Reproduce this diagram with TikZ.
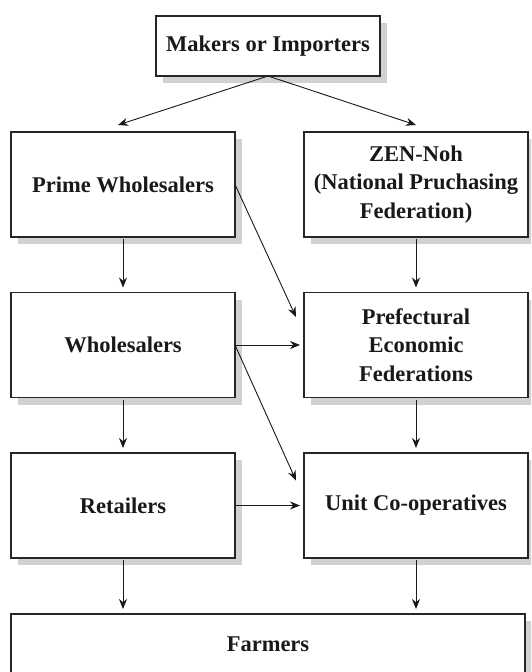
\documentclass[tikz,border=0pt]{standalone}
\usepackage{fontspec}
\setmainfont{Liberation Serif}
\usetikzlibrary{shadows,arrows.meta}
\definecolor{shadowgray}{rgb}{0.82, 0.82, 0.83}

\begin{document}
\begin{tikzpicture}[x=1pt,y=-1pt]
  \tikzset{BoxStyle/.style = {
    shape         = rectangle,
    draw          = black!85,
    fill          = white,
    line width    = 1.1pt,
    text          = black!90,
    font          = \fontsize{22.5}{28.5}\selectfont\bfseries,
    align         = center,
    inner sep     = 2pt,
    outer sep     = 0pt,
    minimum width = 224pt,
    minimum height= 105pt,
    drop shadow   = {shadow xshift=7pt, shadow yshift=-7pt,
                     fill=shadowgray, opacity=1}
    }
  }
  \tikzset{ArrowStyle/.style = {
    draw          = black!90,
    line width    = 0.9pt,
    -{Stealth[length=10pt,width=8pt]}
    }
  }
  \clip (0,0) rectangle (531,672);

	\node[BoxStyle,minimum height=60pt](Makers) at (268, 46) {Makers or Importers};
	\node[BoxStyle](Prime) at (123, 184.5) {Prime Wholesalers};
	\node[BoxStyle](ZenNoh) at (416, 184.5) {ZEN-Noh\\(National Pruchasing\\Federation)};
	\node[BoxStyle](Whole) at (123, 345) {Wholesalers};
	\node[BoxStyle](Pref) at (416, 345) {Prefectural\\Economic\\Federations};
	\node[BoxStyle](Retail) at (123, 505.5) {Retailers};
	\node[BoxStyle](Unit) at (416, 505.5) {Unit Co-operatives};
	\node[BoxStyle,minimum width=514pt,minimum height=60pt](Farmers) at (268, 644) {Farmers};

	\draw[ArrowStyle](Makers.south) to ([xshift=-5pt,yshift=7pt]Prime.north);
	\draw[ArrowStyle](Makers.south) to ([yshift=7pt]ZenNoh.north);

	\draw[ArrowStyle,shorten <=2pt,shorten >=5pt](Prime.south) to (Whole.north);
	\draw[ArrowStyle,shorten <=2pt,shorten >=5pt](ZenNoh.south) to (Pref.north);
	\draw[ArrowStyle](Prime.east) to ([xshift=-8pt,yshift=28pt]Pref.west);
	\draw[ArrowStyle,shorten >=4pt](Whole.east) to (Pref.west);
	\draw[ArrowStyle](Whole.east) to ([xshift=-8pt,yshift=25pt]Unit.west);
	\draw[ArrowStyle,shorten <=2pt,shorten >=5pt](Whole.south) to (Retail.north);
	\draw[ArrowStyle,shorten <=2pt,shorten >=5pt](Pref.south) to (Unit.north);
	\draw[ArrowStyle,shorten >=4pt](Retail.east) to (Unit.west);
	\draw[ArrowStyle,shorten <=2pt,shorten >=5pt](Retail.south) to (Retail.south |- Farmers.north);
	\draw[ArrowStyle,shorten <=2pt,shorten >=5pt](Unit.south) to (Unit.south |- Farmers.north);

  \end{tikzpicture}
\end{document}
